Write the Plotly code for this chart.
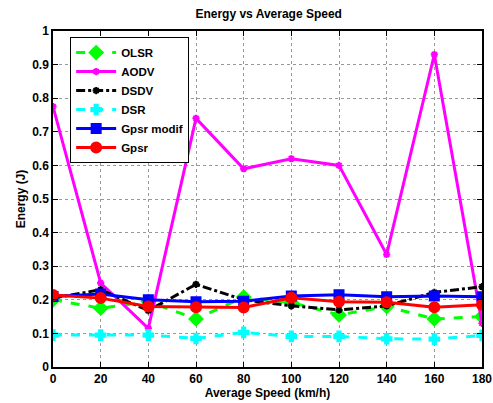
import plotly.graph_objects as go

speed = [0, 20, 40, 60, 80, 100, 120, 140, 160, 180]
olsr = [0.200, 0.175, 0.195, 0.143, 0.208, 0.192, 0.155, 0.180, 0.143, 0.150]
aodv = [0.775, 0.250, 0.115, 0.740, 0.590, 0.620, 0.600, 0.335, 0.930, 0.130]
dsdv = [0.205, 0.230, 0.168, 0.246, 0.200, 0.182, 0.170, 0.182, 0.222, 0.239]
dsr = [0.095, 0.095, 0.095, 0.085, 0.103, 0.091, 0.091, 0.084, 0.083, 0.094]
gpsr_modif = [0.210, 0.217, 0.200, 0.194, 0.196, 0.211, 0.215, 0.209, 0.211, 0.209]
gpsr = [0.214, 0.205, 0.180, 0.178, 0.177, 0.206, 0.194, 0.193, 0.178, 0.185]

series = [
    ("OLSR", olsr, "#00FF00", "dash", "diamond", 10),
    ("AODV", aodv, "#FF00FF", "solid", "asterisk", 6),
    ("DSDV", dsdv, "#000000", "dashdot", "asterisk", 6),
    ("DSR", dsr, "#00FFFF", "dash", "cross", 8),
    ("Gpsr modif", gpsr_modif, "#0000FF", "solid", "square", 9),
    ("Gpsr", gpsr, "#FF0000", "solid", "circle", 10),
]

fig = go.Figure()
for name, vals, color, dash, sym, size in series:
    fig.add_trace(go.Scatter(
        x=speed, y=vals, name=name, mode="lines+markers",
        line=dict(color=color, width=3, dash=dash),
        marker=dict(symbol=sym, size=size, color=color,
                    line=dict(color=color, width=2)),
        cliponaxis=True,
    ))

axis_common = dict(
    showline=True, linecolor="black", linewidth=1.5, mirror="ticks",
    ticks="inside", ticklen=5, tickcolor="black",
    showgrid=True, gridcolor="#999999", griddash="dot", gridwidth=1,
    zeroline=False, automargin=False,
    tickfont=dict(family="Liberation Sans", size=12, color="black", weight="bold"),
)

fig.update_layout(
    width=493, height=403,
    margin=dict(l=53, r=11, t=31, b=36, autoexpand=False),
    paper_bgcolor="white", plot_bgcolor="white",
    font=dict(family="Liberation Sans", size=12, color="black", weight="bold"),
    title=dict(text="Energy vs Average Speed", x=0.545, xanchor="center",
               y=0.975, yanchor="top",
               font=dict(family="Liberation Sans", size=12, color="black", weight="bold")),
    xaxis=dict(range=[0, 180], tickvals=speed, title=dict(text="Average Speed (km/h)", standoff=1,
               font=dict(size=12, weight="bold")), **axis_common),
    yaxis=dict(range=[0, 1], dtick=0.1, title=dict(text="Energy (J)", standoff=4,
               font=dict(size=12, weight="bold")), **axis_common),
    legend=dict(x=0.04, y=0.982, xanchor="left", yanchor="top",
                bgcolor="white", bordercolor="black", borderwidth=1,
                font=dict(family="Liberation Sans", size=11.5, color="black", weight="bold"),
                tracegroupgap=0, itemwidth=40),
    showlegend=True,
)

fig.write_html("out.html", config={"displayModeBar": False},
               post_script="document.body.style.margin='0';document.body.style.overflow='hidden';")
